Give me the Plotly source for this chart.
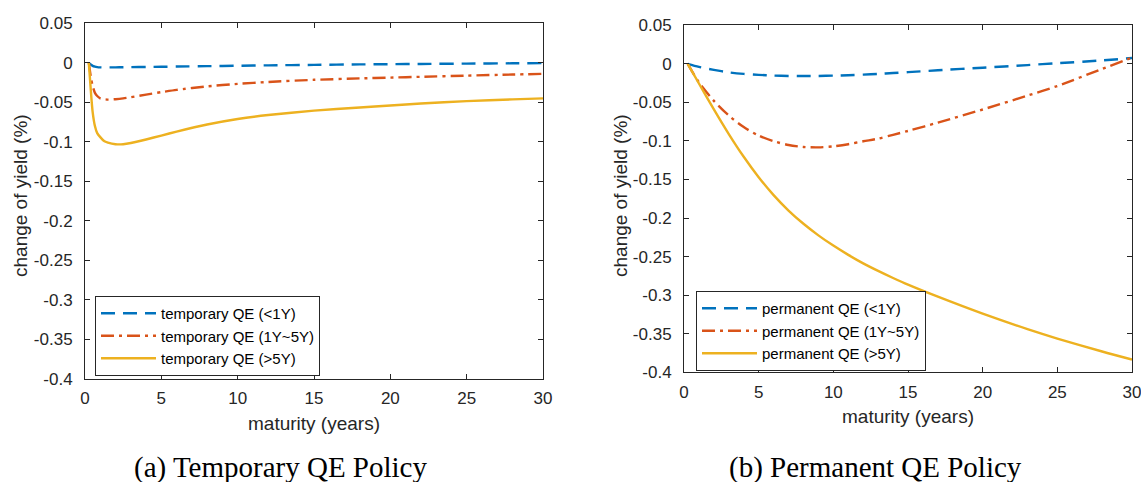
import plotly.graph_objects as go

# ---------------- data ----------------
maturity_temp = [0.25, 0.4, 0.5, 0.65, 0.8, 1.0, 1.25, 1.5, 2.0, 2.5, 3, 4, 5, 6, 8, 10, 12, 15, 18, 20, 22, 25, 28, 30]
temp_short = [0, -0.0025, -0.0038, -0.0048, -0.0054, -0.0057, -0.0058, -0.0058, -0.0057, -0.0056, -0.0055, -0.0052,
              -0.0050, -0.0047, -0.0042, -0.0037, -0.0032, -0.0026, -0.0020, -0.0017, -0.0014, -0.0010, -0.0006, -0.0004]
temp_mid = [0, -0.020, -0.029, -0.038, -0.042, -0.045, -0.046, -0.0465, -0.046, -0.045, -0.0435, -0.0402,
            -0.0371, -0.0342, -0.0298, -0.0266, -0.0242, -0.0215, -0.0197, -0.0187, -0.0177, -0.0162, -0.0148, -0.0140]
temp_long = [0, -0.040, -0.062, -0.080, -0.089, -0.094, -0.099, -0.101, -0.103, -0.103, -0.1015, -0.097,
             -0.092, -0.087, -0.078, -0.071, -0.066, -0.0605, -0.0565, -0.054, -0.0515, -0.0485, -0.0462, -0.045]

maturity_perm = [0.25, 1, 2, 3, 4, 5, 6, 7, 8, 9, 10, 11, 12, 13, 14, 15, 17, 20, 23, 25, 28, 30]
perm_short = [0, -0.004, -0.0078, -0.011, -0.013, -0.0143, -0.0152, -0.0157, -0.0158, -0.0157, -0.0153, -0.0147,
              -0.0140, -0.0130, -0.0119, -0.0107, -0.0083, -0.0050, -0.0016, 0.0008, 0.0045, 0.0075]
perm_mid = [0, -0.024, -0.048, -0.067, -0.082, -0.093, -0.1003, -0.1052, -0.1078, -0.1083, -0.107, -0.1042,
            -0.1004, -0.097, -0.092, -0.087, -0.0762, -0.0592, -0.0412, -0.0287, -0.0065, 0.008]
perm_long = [0, -0.0255, -0.059, -0.091, -0.1205, -0.147, -0.1702, -0.1902, -0.2074, -0.2224, -0.2357, -0.2477,
             -0.2587, -0.2685, -0.2777, -0.2864, -0.302, -0.324, -0.344, -0.3562, -0.373, -0.3835]

names_temp = ["temporary QE (<1Y)", "temporary QE (1Y~5Y)", "temporary QE (>5Y)"]
names_perm = ["permanent QE (<1Y)", "permanent QE (1Y~5Y)", "permanent QE (>5Y)"]
captions = ["(a) Temporary QE Policy", "(b) Permanent QE Policy"]
x_title = "maturity (years)"
y_title = "change of yield (%)"

y_ticks = [0.05, 0, -0.05, -0.1, -0.15, -0.2, -0.25, -0.3, -0.35, -0.4]
y_ticktext = ["0.05", "0", "-0.05", "-0.1", "-0.15", "-0.2", "-0.25", "-0.3", "-0.35", "-0.4"]
x_ticks = [0, 5, 10, 15, 20, 25, 30]

# ---------------- style ----------------
W, H = 1141, 483
colors = ["#0072BD", "#D95319", "#EDB120"]
dashes = ["14px,8px", "13px,5px,3px,5px", "solid"]
SANS = "Liberation Sans, Arial, Helvetica, sans-serif"
SERIF = "Liberation Serif, Times New Roman, serif"
AX = "#262626"

fig = go.Figure()

for i, (ys, nm) in enumerate(zip([temp_short, temp_mid, temp_long], names_temp)):
    fig.add_trace(go.Scatter(x=maturity_temp, y=ys, name=nm, mode="lines",
                             line=dict(color=colors[i], width=2.4, dash=dashes[i], shape="spline", smoothing=0.6),
                             xaxis="x", yaxis="y", legend="legend"))
for i, (ys, nm) in enumerate(zip([perm_short, perm_mid, perm_long], names_perm)):
    fig.add_trace(go.Scatter(x=maturity_perm, y=ys, name=nm, mode="lines",
                             line=dict(color=colors[i], width=2.4, dash=dashes[i], shape="spline", smoothing=0.8),
                             xaxis="x2", yaxis="y2", legend="legend2"))

def px_x(p):
    return p / W

def px_y(p):
    return 1 - p / H

axis_common = dict(showline=True, linecolor=AX, linewidth=1, mirror="ticks", ticks="inside",
                   ticklen=5, tickcolor=AX, showgrid=False, zeroline=False, automargin=False,
                   ticklabeloverflow="allow",
                   tickfont=dict(family=SANS, size=17, color=AX))

fig.update_layout(
    width=W, height=H, margin=dict(l=0, r=0, t=0, b=0, autoexpand=False),
    paper_bgcolor="white", plot_bgcolor="white", showlegend=True,
    xaxis=dict(domain=[px_x(85), px_x(543)], range=[0, 30], tickvals=x_ticks, anchor="y",
               ticklabelstandoff=4, **axis_common),
    yaxis=dict(domain=[px_y(379), px_y(23.3)], range=[-0.4, 0.05], tickvals=y_ticks, ticktext=y_ticktext,
               anchor="x", ticklabelstandoff=8, **axis_common),
    xaxis2=dict(domain=[px_x(684), px_x(1132)], range=[0, 30], tickvals=x_ticks, anchor="y2",
                ticklabelstandoff=4, **axis_common),
    yaxis2=dict(domain=[px_y(372.3), px_y(25.3)], range=[-0.4, 0.05], tickvals=y_ticks, ticktext=y_ticktext,
                anchor="x2", ticklabelstandoff=8, **axis_common),
    legend=dict(x=px_x(95), y=px_y(296), xanchor="left", yanchor="top", bgcolor="white",
                bordercolor=AX, borderwidth=1, font=dict(family=SANS, size=15, color="black"),
                tracegroupgap=0, itemwidth=55),
    legend2=dict(x=px_x(696), y=px_y(291), xanchor="left", yanchor="top", bgcolor="white",
                 bordercolor=AX, borderwidth=1, font=dict(family=SANS, size=15, color="black"),
                 tracegroupgap=0, itemwidth=55),
)

ann = []
# axis titles
ann.append(dict(text=x_title, x=px_x(314), y=px_y(423), xref="paper", yref="paper", showarrow=False,
                xanchor="center", yanchor="middle", font=dict(family=SANS, size=19, color=AX)))
ann.append(dict(text=x_title, x=px_x(908), y=px_y(416), xref="paper", yref="paper", showarrow=False,
                xanchor="center", yanchor="middle", font=dict(family=SANS, size=19, color=AX)))
ann.append(dict(text=y_title, x=px_x(20), y=px_y(196), xref="paper", yref="paper", showarrow=False,
                textangle=-90, xanchor="center", yanchor="middle", font=dict(family=SANS, size=19, color=AX)))
ann.append(dict(text=y_title, x=px_x(620), y=px_y(196), xref="paper", yref="paper", showarrow=False,
                textangle=-90, xanchor="center", yanchor="middle", font=dict(family=SANS, size=19, color=AX)))
# captions
ann.append(dict(text=captions[0], x=px_x(280), y=px_y(467), xref="paper", yref="paper", showarrow=False,
                xanchor="center", yanchor="middle", height=30, font=dict(family=SERIF, size=29, color="black")))
ann.append(dict(text=captions[1], x=px_x(875), y=px_y(467), xref="paper", yref="paper", showarrow=False,
                xanchor="center", yanchor="middle", height=30, font=dict(family=SERIF, size=29, color="black")))
fig.update_layout(annotations=ann)

fig.write_html("out.html")
